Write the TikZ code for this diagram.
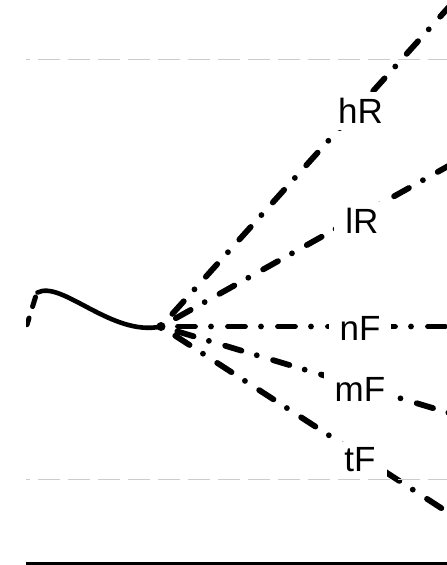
\documentclass[tikz,border=0pt]{standalone}
\usepackage{fontspec}
\setmainfont{Liberation Sans}
\begin{document}
\begin{tikzpicture}[x=1pt,y=-1pt,
  ray/.style={line width=5.8pt, line cap=round,
    dash pattern=on 17pt off 16pt on 0pt off 17pt, shorten <=17pt},
  guide/.style={draw=black!20, line width=1.5pt,
    dash pattern=on 22pt off 8pt, dash phase=18pt},
  wave/.style={line width=4.6pt, line cap=round},
  lbl/.style={fill=white, inner xsep=11pt, inner ysep=6pt, anchor=base,
    font=\fontsize{35}{42}\selectfont},
  hub/.style={circle, fill=black, inner sep=0pt, minimum size=9pt},
]
\useasboundingbox (0,0) rectangle (447,565);
\clip (26,0) rectangle (447,565);

% ray labels, placed first; their white boxes are painted over the rays below
\node[lbl] (hR) at (360.5,123.5) {\phantom{hR}};
\node[lbl] (lR) at (362,233.3) {\phantom{lR}};
\node[lbl] (nF) at (360,340) {\phantom{nF}};
\node[lbl] (mF) at (360,401.7) {\phantom{mF}};
\node[lbl] (tF) at (360,471.7) {\phantom{tF}};

% incoming wave ending at the hub
\node[hub] (o) at (161,326.5) {};
\coordinate (w) at (37.5,292.5);
\coordinate (ws) at (35.5,297);
\coordinate (wl) at (26,328);
\draw[line width=5pt, line cap=round,
  dash pattern=on 10pt off 12pt on 7pt off 20pt] (ws) -- (wl);
\draw[wave] (w) .. controls (62,280) and (112,337) .. (o.center);

% rays leaving the hub
\coordinate (eh) at (493,-42);
\coordinate (el) at (473,152.2);
\coordinate (en) at (480,326.5);
\coordinate (em) at (480,422.2);
\coordinate (et) at (480,533.2);
\draw[ray] (o.center) -- (eh);
\draw[ray] (o.center) -- (el);
\draw[ray] (o.center) -- (en);
\draw[ray] (o.center) -- (em);
\draw[ray] (o.center) -- (et);

% label boxes break the rays
\foreach \n/\t in {hR/hR, lR/lR, nF/nF, mF/mF, tF/tF}
  \node[lbl, anchor=center] at (\n.center) {\phantom{\t}};

% frame guides and base line, on top of the label boxes
\coordinate (gl1) at (26,59.5);  \coordinate (gr1) at (447,59.5);
\coordinate (gl2) at (26,479.5); \coordinate (gr2) at (447,479.5);
\coordinate (bl) at (26,563.5);  \coordinate (br) at (447,563.5);
\draw[guide] (gl1) -- (gr1);
\draw[guide] (gl2) -- (gr2);
\draw[line width=3.2pt] (bl) -- (br);

% label texts
\foreach \n/\t in {hR/hR, lR/lR, nF/nF, mF/mF, tF/tF}
  \node[lbl, fill=none, anchor=center] at (\n.center) {\t};
\end{tikzpicture}
\end{document}
